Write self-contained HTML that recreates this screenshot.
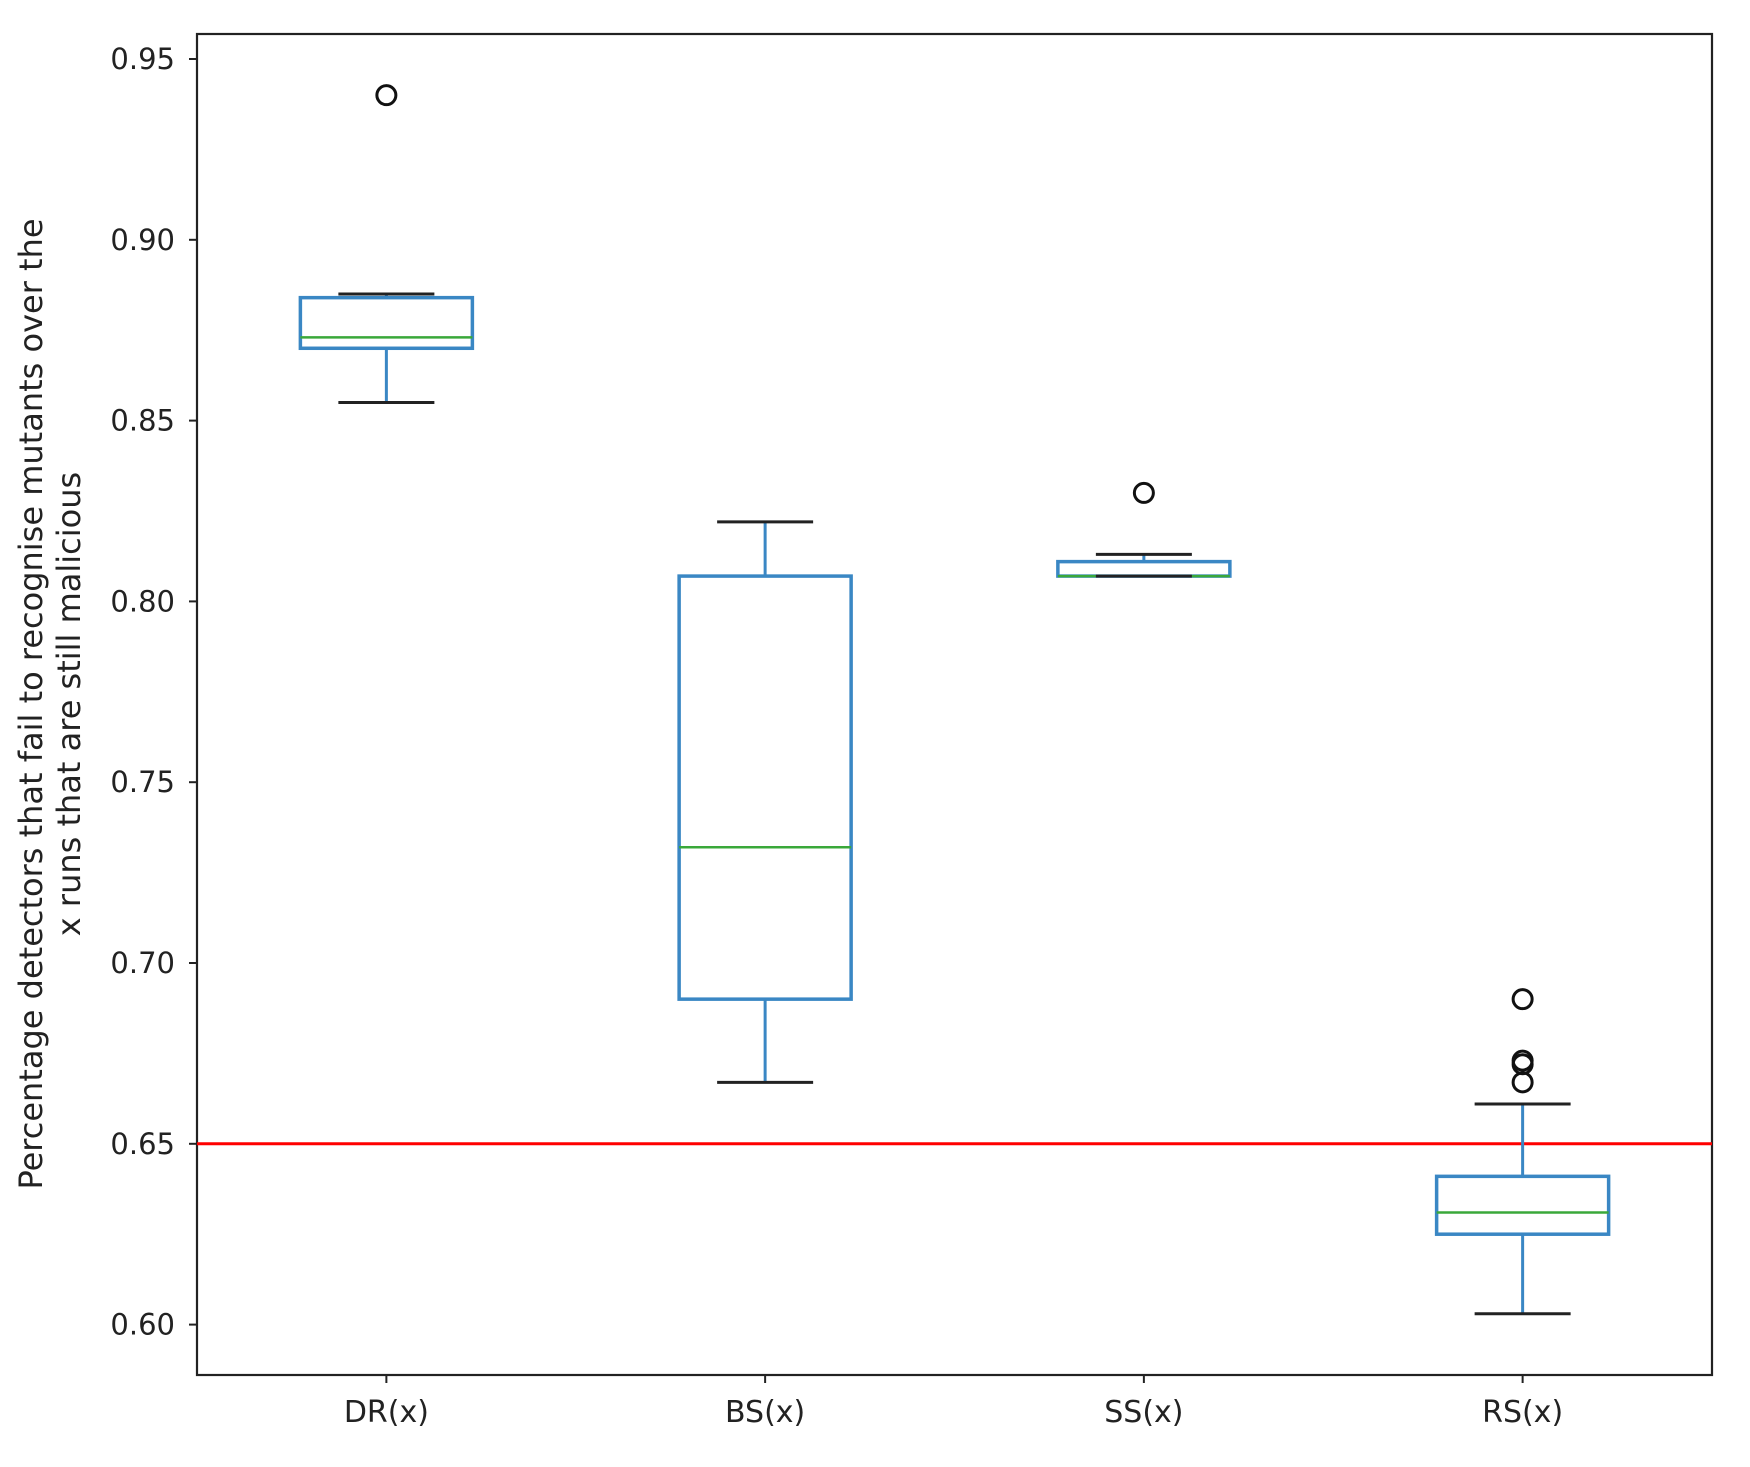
<!DOCTYPE html>
<html><head><meta charset="utf-8"><style>
html,body{margin:0;padding:0;background:#fff;}
svg text{font-family:"DejaVu Sans","Liberation Sans",sans-serif;fill:#222;}
</style></head><body>
<svg id="chart" width="1750" height="1462" viewBox="0 0 1750 1462">
<g id="plot"></g>
</svg>
<script>
const categories = ["DR(x)","BS(x)","SS(x)","RS(x)"];
const whiskerLow = [0.855,0.667,0.807,0.603];
const q1Values = [0.870,0.690,0.807,0.625];
const medianValues = [0.873,0.732,0.807,0.631];
const q3Values = [0.884,0.807,0.811,0.641];
const whiskerHigh = [0.885,0.822,0.813,0.661];
const flierValues = [[0.940],[],[0.830],[0.667,0.672,0.673,0.690]];
const yTicks = [0.60,0.65,0.70,0.75,0.80,0.85,0.90,0.95];
const threshold = 0.65;

const L=197,R=1712,T=34,B=1375;
const NS="http://www.w3.org/2000/svg";
const g=document.getElementById('plot');
function y(v){return 59+(0.95-v)/0.05*180.8;}
function x(i){return L+(i+0.5)*(R-L)/categories.length;}
function el(tag,attrs,parent){const e=document.createElementNS(NS,tag);for(const k in attrs)e.setAttribute(k,attrs[k]);(parent||g).appendChild(e);return e;}

const frame=el('rect',{x:L,y:T,width:R-L,height:B-T,fill:'none',stroke:'#222','stroke-width':2.2});



yTicks.forEach(v=>{
  const t=el('line',{x1:L-8,x2:L,y1:y(v),y2:y(v),stroke:'#222','stroke-width':2});
  
  
  const lb=el('text',{x:L-22,y:y(v)+10,'text-anchor':'end','font-size':29});
  lb.textContent=v.toFixed(2);
  
  
});

const th=el('line',{x1:L,x2:R,y1:y(threshold),y2:y(threshold),stroke:'#ff0000','stroke-width':3});



const hw=86, cw=48;
categories.forEach((c,i)=>{
  const cx=x(i);
  const grp=el('g',{});
  
  
  const blue='#3a87c4';
  el('line',{x1:cx,x2:cx,y1:y(whiskerLow[i]),y2:y(q1Values[i]),stroke:blue,'stroke-width':3},grp);
  el('line',{x1:cx,x2:cx,y1:y(q3Values[i]),y2:y(whiskerHigh[i]),stroke:blue,'stroke-width':3},grp);
  el('rect',{x:cx-hw,y:y(q3Values[i]),width:2*hw,height:Math.max(1,y(q1Values[i])-y(q3Values[i])),fill:'none',stroke:blue,'stroke-width':3.5},grp);
  el('line',{x1:cx-hw,x2:cx+hw,y1:y(medianValues[i]),y2:y(medianValues[i]),stroke:'#3aa83a','stroke-width':2.5},grp);
  el('line',{x1:cx-cw,x2:cx+cw,y1:y(whiskerLow[i]),y2:y(whiskerLow[i]),stroke:'#222','stroke-width':3},grp);
  el('line',{x1:cx-cw,x2:cx+cw,y1:y(whiskerHigh[i]),y2:y(whiskerHigh[i]),stroke:'#222','stroke-width':3},grp);
  flierValues[i].forEach(v=>{
    const f=el('circle',{cx:cx,cy:y(v),r:9.5,fill:'none',stroke:'#111','stroke-width':3},grp);
    
    
  });
  const t=el('line',{x1:cx,x2:cx,y1:B,y2:B+8,stroke:'#222','stroke-width':2});
  
  
  const lb=el('text',{x:cx,y:B+47,'text-anchor':'middle','font-size':30});
  lb.textContent=c;
  
  
});

const yt=el('text',{transform:'translate(42,704) rotate(-90)','text-anchor':'middle','font-size':32});


const s1=el('tspan',{x:0,dy:0},yt); s1.textContent='Percentage detectors that fail to recognise mutants over the';
const s2=el('tspan',{x:0,dy:38},yt); s2.textContent='x runs that are still malicious';
</script>
</body></html>
